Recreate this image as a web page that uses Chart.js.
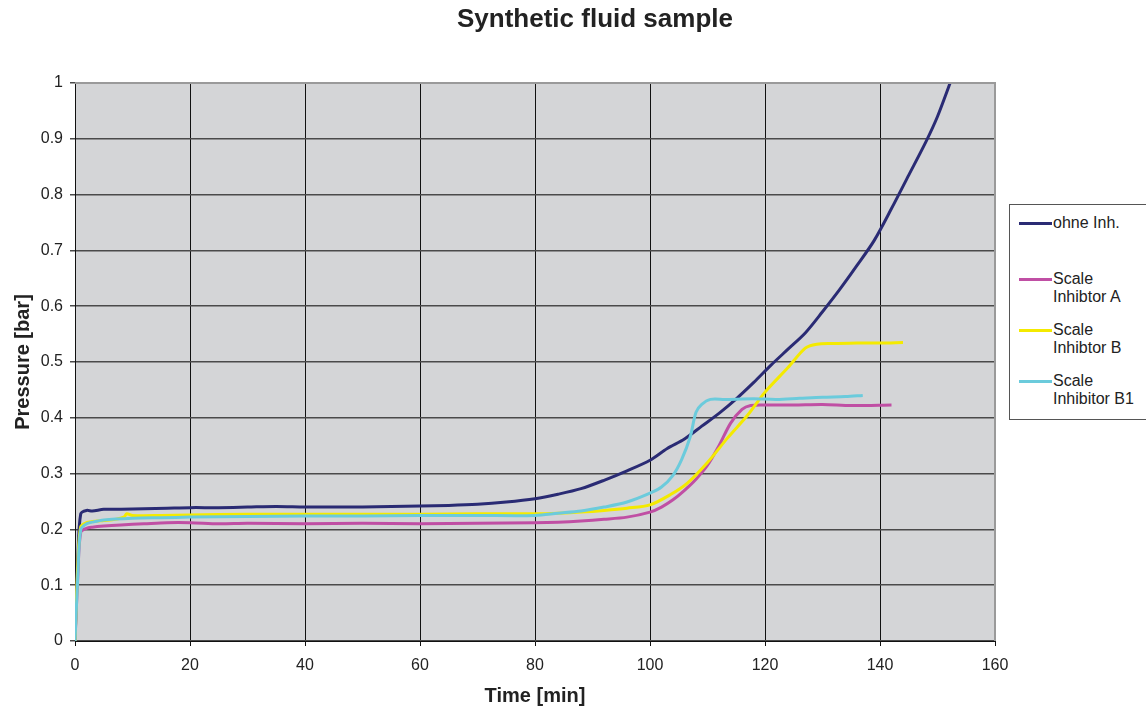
<!DOCTYPE html>
<html>
<head>
<meta charset="utf-8">
<script src="https://cdn.jsdelivr.net/npm/chart.js@4.4.0/dist/chart.umd.min.js"></script>
<style>
	body { margin: 0; background: #fff; font-family: "Liberation Sans", Arial, sans-serif; overflow: hidden; }
	#wrap { position: relative; width: 1146px; height: 708px; overflow: hidden; }
	#title { position: absolute; left: 0; width: 1190px; top: 3px; text-align: center; font-weight: bold; font-size: 26px; color: #222; }
	#legend { position: absolute; left: 1009px; top: 204px; width: 150px; height: 216px; border: 1px solid #555; background: #fff; box-sizing: border-box; padding-top: 9px; }
	.item { position: relative; height: 51px; font-size: 16px; line-height: 18px; color: #222; }
	.item:first-child { height: 56px; }
	.item .swatch { position: absolute; left: 9px; top: 8px; width: 33px; height: 3px; }
	.item .txt { position: absolute; left: 43px; top: 0; width: 90px; }
</style>
</head>
<body>
<div id="wrap">
	<canvas id="chart" width="1146" height="708"></canvas>
	<div id="title">Synthetic fluid sample</div>
	<div id="legend"></div>
</div>
<script>
// series: time [min] / pressure [bar]
var seriesNames = ["ohne Inh.", "Scale Inhibtor A", "Scale Inhibtor B", "Scale Inhibitor B1"];
var seriesColors = ["#2a2b74", "#c04fa4", "#f4ea00", "#6bcbdc"];

var ohneT = [0, 0.5, 1, 2, 3, 5, 8, 12, 16, 20, 25, 30, 35, 40, 45, 50, 55, 60, 65, 70, 75, 80, 84, 88, 92, 96, 100, 103, 106, 109, 112, 115, 118, 121, 124, 127, 130, 133, 136, 139, 142, 145, 148, 150, 152.2];
var ohneP = [0, 0.15, 0.228, 0.234, 0.233, 0.236, 0.236, 0.237, 0.238, 0.239, 0.239, 0.24, 0.241, 0.24, 0.24, 0.24, 0.241, 0.242, 0.243, 0.245, 0.249, 0.255, 0.263, 0.273, 0.288, 0.305, 0.324, 0.345, 0.362, 0.385, 0.408, 0.434, 0.463, 0.494, 0.523, 0.552, 0.59, 0.63, 0.673, 0.718, 0.775, 0.835, 0.895, 0.94, 1.0];

var inhAT = [0, 0.5, 1, 2, 3, 5, 8, 12, 16, 20, 25, 30, 40, 50, 60, 70, 80, 84, 88, 92, 96, 100, 102, 104, 106, 108, 110, 112, 114, 116, 117.5, 120, 125, 130, 135, 142];
var inhAP = [0, 0.12, 0.195, 0.202, 0.204, 0.206, 0.208, 0.21, 0.212, 0.212, 0.21, 0.211, 0.21, 0.211, 0.21, 0.211, 0.212, 0.213, 0.215, 0.218, 0.222, 0.231, 0.24, 0.253, 0.27, 0.29, 0.315, 0.35, 0.39, 0.415, 0.422, 0.423, 0.423, 0.424, 0.422, 0.423];

var inhBT = [0, 0.5, 1, 2, 3, 5, 7, 8.5, 9, 10, 15, 20, 30, 40, 50, 60, 70, 80, 84, 88, 92, 96, 100, 103.5, 106.5, 110, 113.5, 117, 120, 124, 127, 129, 132, 136, 140, 144];
var inhBP = [0, 0.14, 0.205, 0.212, 0.214, 0.216, 0.218, 0.222, 0.228, 0.225, 0.225, 0.226, 0.227, 0.227, 0.227, 0.227, 0.228, 0.228, 0.229, 0.231, 0.234, 0.238, 0.244, 0.262, 0.283, 0.32, 0.364, 0.405, 0.446, 0.49, 0.525, 0.532, 0.533, 0.534, 0.534, 0.535];

var inhB1T = [0, 0.5, 1, 2, 3, 5, 10, 15, 20, 30, 40, 50, 60, 70, 80, 84, 88, 92, 96, 100, 102, 104, 105.5, 107, 108, 109, 110.5, 113, 118, 122, 126, 130, 134, 137];
var inhB1P = [0, 0.12, 0.2, 0.21, 0.213, 0.217, 0.22, 0.221, 0.222, 0.223, 0.224, 0.224, 0.225, 0.225, 0.225, 0.229, 0.233, 0.24, 0.249, 0.265, 0.276, 0.297, 0.325, 0.366, 0.41, 0.424, 0.433, 0.433, 0.434, 0.433, 0.435, 0.437, 0.438, 0.44];

var xTicks = [0, 20, 40, 60, 80, 100, 120, 140, 160];
var yTicks = [0, 0.1, 0.2, 0.3, 0.4, 0.5, 0.6, 0.7, 0.8, 0.9, 1];

function pts(t, p) {
	var out = [];
	for (var i = 0; i < t.length; i++) {
		out.push({ x: t[i], y: p[i] });
	}
	return out;
}

var allT = [ohneT, inhAT, inhBT, inhB1T];
var allP = [ohneP, inhAP, inhBP, inhB1P];

var datasets = [];
for (var s = 0; s < seriesNames.length; s++) {
	datasets.push({
		label: seriesNames[s],
		data: pts(allT[s], allP[s]),
		borderColor: seriesColors[s],
		backgroundColor: seriesColors[s],
		borderWidth: 3,
		pointRadius: 0,
		tension: 0.3,
		fill: false,
		order: seriesNames.length - s
	});
}

// grey plot area + light border on top/right
var plotBg = {
	id: "plotBg",
	beforeDraw: function(chart) {
		var a = chart.chartArea, c = chart.ctx;
		c.save();
		c.fillStyle = "#d4d5d7";
		c.fillRect(a.left, a.top, a.right - a.left, a.bottom - a.top);
		c.restore();
	},
	afterDatasetsDraw: function(chart) {
		var a = chart.chartArea, c = chart.ctx;
		c.save();
		c.strokeStyle = "#9a9a9a";
		c.lineWidth = 2;
		c.beginPath();
		c.moveTo(a.left, a.top);
		c.lineTo(a.right, a.top);
		c.lineTo(a.right, a.bottom);
		c.stroke();
		c.restore();
	}
};

var ctx = document.getElementById("chart");
var chart = new Chart(ctx, {
	type: "line",
	data: { datasets: datasets },
	plugins: [plotBg],
	options: {
		responsive: false,
		animation: false,
		layout: { padding: { top: 83, right: 151, bottom: 0, left: 0 } },
		plugins: {
			legend: { display: false },
			title: { display: false },
			tooltip: { enabled: false }
		},
		scales: {
			x: {
				type: "linear",
				min: 0,
				max: 160,
				afterBuildTicks: function(axis) {
					axis.ticks = xTicks.map(function(v) { return { value: v }; });
				},
				afterFit: function(axis) { axis.height = 67; },
				grid: { color: "#111", lineWidth: 1, tickLength: 5, drawTicks: true },
				border: { color: "#111", width: 1 },
				ticks: { color: "#222", font: { family: "Liberation Sans", size: 16 }, padding: 10, maxRotation: 0 },
				title: { display: true, text: "Time [min]", color: "#222", font: { family: "Liberation Sans", size: 20, weight: "bold" }, padding: { top: 0, bottom: 0 } }
			},
			y: {
				min: 0,
				max: 1,
				afterBuildTicks: function(axis) {
					axis.ticks = yTicks.map(function(v) { return { value: v }; });
				},
				afterFit: function(axis) { axis.width = 75; },
				grid: { color: "#4a4a4a", lineWidth: 1.5, tickLength: 5 },
				border: { color: "#111", width: 1 },
				ticks: {
					color: "#222",
					font: { family: "Liberation Sans", size: 16 },
					padding: 7,
					callback: function(v) { return String(+v.toFixed(1)); }
				},
				title: { display: true, text: "Pressure [bar]", color: "#222", font: { family: "Liberation Sans", size: 20, weight: "bold" }, padding: { top: 11, bottom: 0 } }
			}
		}
	}
});

// legend box with wrapping labels, built from the chart's datasets
var leg = document.getElementById("legend");
chart.data.datasets.forEach(function(ds) {
	var item = document.createElement("div");
	item.className = "item";
	var sw = document.createElement("div");
	sw.className = "swatch";
	sw.style.background = ds.borderColor;
	var tx = document.createElement("div");
	tx.className = "txt";
	tx.textContent = ds.label;
	item.appendChild(sw);
	item.appendChild(tx);
	leg.appendChild(item);
});
</script>
</body>
</html>
